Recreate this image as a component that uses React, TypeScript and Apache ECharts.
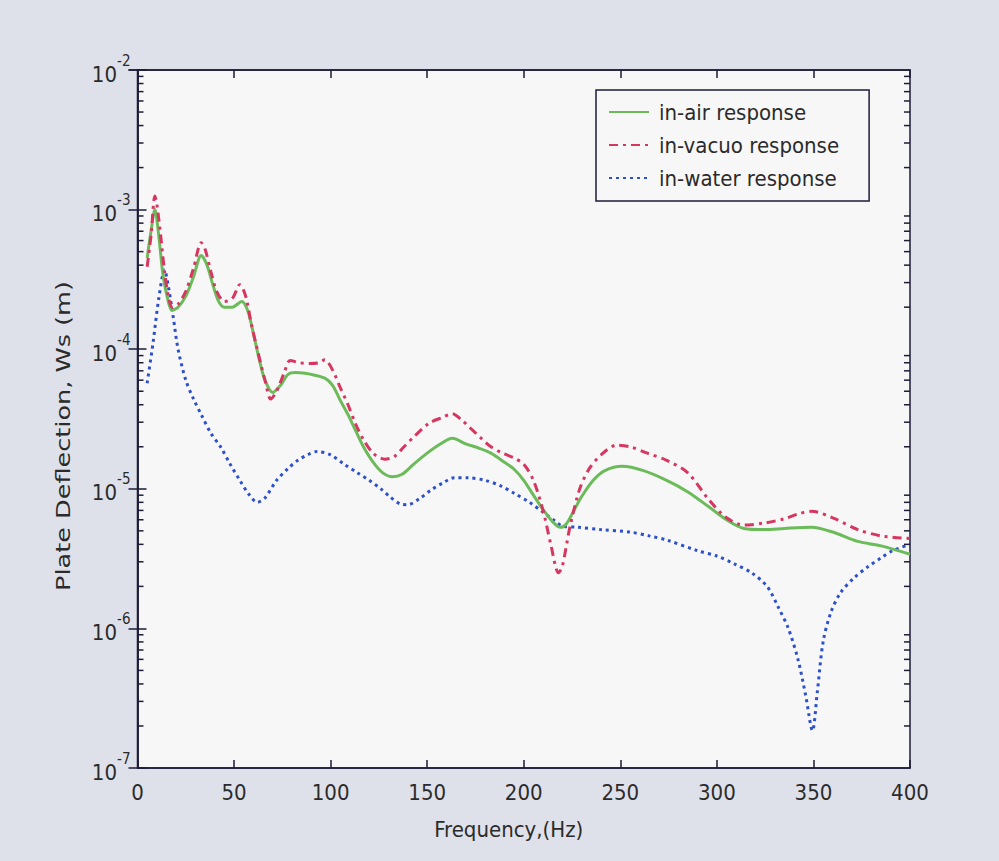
import React, { useEffect, useRef } from "react";
import * as echarts from "echarts";

// Frequency (Hz) / plate deflection Ws (m) pairs for each medium
const inAirResponse: [number, number][] = [
  [5, 4.5e-4], [7, 7.0e-4], [9, 1.0e-3], [11, 6.5e-4], [13, 3.6e-4], [15, 2.5e-4],
  [18, 1.9e-4], [21, 2.0e-4], [25, 2.4e-4], [29, 3.3e-4], [33, 4.7e-4], [36, 4.0e-4],
  [39, 2.9e-4], [42, 2.2e-4], [45, 2.0e-4], [49, 2.0e-4], [54, 2.2e-4], [57, 1.9e-4],
  [60, 1.3e-4], [63, 8.5e-5], [66, 6.0e-5], [70, 4.9e-5], [74, 5.5e-5], [78, 6.6e-5],
  [82, 6.8e-5], [90, 6.6e-5], [97, 6.2e-5], [101, 5.5e-5], [105, 4.3e-5], [109, 3.4e-5],
  [113, 2.6e-5], [117, 2.0e-5], [122, 1.55e-5], [127, 1.3e-5], [132, 1.22e-5], [137, 1.27e-5],
  [143, 1.5e-5], [150, 1.8e-5], [157, 2.1e-5], [163, 2.3e-5], [170, 2.1e-5], [177, 1.95e-5],
  [183, 1.8e-5], [190, 1.55e-5], [195, 1.38e-5], [200, 1.15e-5], [205, 9.0e-6], [210, 7.1e-6],
  [215, 5.8e-6], [219, 5.3e-6], [222, 5.6e-6], [226, 7.0e-6], [230, 8.8e-6], [236, 1.15e-5],
  [242, 1.35e-5], [251, 1.45e-5], [262, 1.35e-5], [274, 1.15e-5], [285, 9.5e-6], [296, 7.4e-6],
  [305, 6.0e-6], [314, 5.2e-6], [325, 5.1e-6], [335, 5.2e-6], [349, 5.3e-6], [360, 4.9e-6],
  [373, 4.2e-6], [385, 3.9e-6], [400, 3.4e-6],
];

const inVacuoResponse: [number, number][] = [
  [5, 3.9e-4], [7, 6.5e-4], [9, 1.25e-3], [10, 1.1e-3], [12, 6.5e-4], [14, 3.6e-4],
  [16, 2.4e-4], [18, 2.0e-4], [21, 2.1e-4], [25, 2.6e-4], [29, 3.8e-4], [33, 5.8e-4],
  [35, 5.2e-4], [38, 3.6e-4], [41, 2.6e-4], [45, 2.2e-4], [49, 2.3e-4], [53, 2.9e-4],
  [56, 2.4e-4], [59, 1.5e-4], [62, 1.0e-4], [66, 6.0e-5], [69, 4.4e-5], [72, 5.0e-5],
  [76, 6.8e-5], [79, 8.3e-5], [84, 8.0e-5], [89, 7.9e-5], [94, 8.0e-5], [97, 8.4e-5],
  [101, 7.1e-5], [105, 5.3e-5], [109, 4.0e-5], [113, 2.9e-5], [117, 2.25e-5], [122, 1.8e-5],
  [128, 1.63e-5], [133, 1.7e-5], [138, 2.0e-5], [143, 2.35e-5], [151, 2.95e-5], [158, 3.25e-5],
  [163, 3.45e-5], [168, 3.1e-5], [172, 2.75e-5], [178, 2.3e-5], [183, 2.0e-5], [189, 1.8e-5],
  [195, 1.66e-5], [200, 1.5e-5], [205, 1.15e-5], [210, 7.0e-6], [214, 4.0e-6], [218, 2.5e-6],
  [220, 2.8e-6], [224, 5.4e-6], [229, 1.0e-5], [234, 1.4e-5], [240, 1.75e-5], [248, 2.05e-5],
  [255, 2.0e-5], [264, 1.8e-5], [274, 1.6e-5], [285, 1.3e-5], [296, 8.3e-6], [305, 6.2e-6],
  [314, 5.5e-6], [325, 5.7e-6], [335, 6.1e-6], [342, 6.6e-6], [349, 6.9e-6], [360, 6.2e-6],
  [373, 5.1e-6], [385, 4.6e-6], [400, 4.4e-6],
];

const inWaterResponse: [number, number][] = [
  [5, 5.7e-5], [8, 1.1e-4], [11, 2.3e-4], [14, 3.7e-4], [16, 2.8e-4], [18.5, 1.7e-4],
  [21, 1.0e-4], [25, 6.0e-5], [29, 4.4e-5], [33, 3.4e-5], [38, 2.5e-5], [43, 2.0e-5],
  [48, 1.5e-5], [53, 1.15e-5], [58, 9.0e-6], [62, 8.0e-6], [66, 8.6e-6], [72, 1.15e-5],
  [78, 1.4e-5], [83, 1.6e-5], [88, 1.75e-5], [93, 1.85e-5], [100, 1.75e-5], [107, 1.5e-5],
  [114, 1.3e-5], [120, 1.15e-5], [126, 1.0e-5], [131, 8.7e-6], [136, 7.8e-6], [140, 7.7e-6],
  [146, 8.5e-6], [152, 9.8e-6], [158, 1.1e-5], [164, 1.2e-5], [171, 1.2e-5], [180, 1.15e-5],
  [188, 1.05e-5], [195, 9.3e-6], [203, 8.0e-6], [210, 6.8e-6], [216, 5.9e-6], [220, 5.4e-6],
  [228, 5.3e-6], [240, 5.1e-6], [255, 4.9e-6], [265, 4.6e-6], [274, 4.3e-6], [290, 3.6e-6],
  [300, 3.3e-6], [309, 2.9e-6], [318, 2.5e-6], [326, 2.0e-6], [332, 1.4e-6], [337, 1.0e-6],
  [342, 6.0e-7], [346, 3.3e-7], [349.5, 1.85e-7], [352, 3.5e-7], [355, 8.0e-7], [359, 1.3e-6],
  [364, 1.8e-6], [371, 2.3e-6], [378, 2.75e-6], [385, 3.2e-6], [391, 3.6e-6], [400, 4.0e-6],
];

const seriesNames = ["in-air response", "in-vacuo response", "in-water response"];
const xAxisTitle = "Frequency,(Hz)";
const yAxisTitle = "Plate Deflection, Ws (m)";
const yMin = 1e-7;
const yMax = 1e-2;
const xMin = 0;
const xMax = 400;
const xStep = 50;
const minorMultipliers = [2, 3, 4, 5, 6, 7, 8, 9];

const INK = "#1d1d38";
const TEXT = "#2b2b2b";
const FONT = "'DejaVu Sans Condensed', 'Liberation Sans', sans-serif";
const FS = 22;

export default function App() {
  const ref = useRef<HTMLDivElement>(null);

  useEffect(() => {
    if (!ref.current) return;
    const chart = echarts.init(ref.current, null, { renderer: "svg" });

    const expLabel = (v: number) => `{b|10}{s|${Math.round(Math.log10(v))}}`;

    const option: any = {
      animation: false,
      backgroundColor: "#dfe1ea",
      textStyle: { fontFamily: FONT },
      grid: {
        left: 137.5,
        right: 89,
        top: 70,
        bottom: 93,
        show: true,
        backgroundColor: "#f7f7f7",
        borderColor: INK,
        borderWidth: 1.5,
      },
      legend: {
        orient: "vertical",
        left: 596,
        top: 90,
        padding: [11, 30, 12, 12],
        itemGap: 11,
        itemWidth: 40,
        itemHeight: 14,
        backgroundColor: "#f7f7f7",
        borderColor: INK,
        borderWidth: 1.5,
        itemStyle: { opacity: 0 },
        textStyle: { fontFamily: FONT, fontSize: FS, color: TEXT, padding: [0, 0, 0, 5] },
        data: seriesNames,
      },
      xAxis: [
        {
          type: "value",
          min: xMin,
          max: xMax,
          interval: xStep,
          name: xAxisTitle,
          nameLocation: "middle",
          nameGap: 50,
          nameTextStyle: { fontFamily: FONT, fontSize: FS, color: TEXT, padding: [0, 30, 0, 0] },
          axisLine: { show: true, lineStyle: { color: INK, width: 1.5 } },
          axisTick: { show: true, inside: true, length: 8, lineStyle: { color: INK, width: 1.5 } },
          axisLabel: { fontFamily: FONT, fontSize: FS, color: TEXT, margin: 13 },
          splitLine: { show: false },
        },
        {
          type: "value",
          position: "top",
          min: xMin,
          max: xMax,
          interval: xStep,
          axisLine: { show: true, lineStyle: { color: INK, width: 1.5 } },
          axisTick: { show: true, inside: true, length: 8, lineStyle: { color: INK, width: 1.5 } },
          axisLabel: { show: false },
          splitLine: { show: false },
        },
      ],
      yAxis: [
        {
          type: "log",
          logBase: 10,
          min: yMin,
          max: yMax,
          axisLine: { show: true, lineStyle: { color: INK, width: 1.5 } },
          axisTick: { show: true, inside: true, length: 9, lineStyle: { color: INK, width: 1.5 } },
          axisLabel: {
            margin: 7,
            padding: [4, 0, 0, 0],
            formatter: expLabel,
            rich: {
              b: { fontFamily: FONT, fontSize: FS, lineHeight: 26, color: TEXT, verticalAlign: "bottom" },
              s: {
                fontFamily: FONT,
                fontSize: 15,
                lineHeight: 18,
                color: TEXT,
                verticalAlign: "bottom",
                padding: [0, 0, 17, 0],
              },
            },
          },
          splitLine: { show: false },
        },
        {
          type: "log",
          logBase: 10,
          position: "right",
          min: yMin,
          max: yMax,
          axisLine: { show: true, lineStyle: { color: INK, width: 1.5 } },
          axisTick: { show: true, inside: true, length: 9, lineStyle: { color: INK, width: 1.5 } },
          axisLabel: { show: false },
          splitLine: { show: false },
        },
      ],
      series: [
        {
          name: seriesNames[0],
          type: "line",
          data: inAirResponse,
          showSymbol: false,
          symbol: "none",
          smooth: 0.3,
          color: "#6cbb5a",
          lineStyle: { color: "#6cbb5a", width: 3, type: "solid" },
          z: 3,
        },
        {
          name: seriesNames[1],
          type: "line",
          data: inVacuoResponse,
          showSymbol: false,
          symbol: "none",
          smooth: 0.3,
          color: "#d6365f",
          lineStyle: { color: "#d6365f", width: 3, type: [9, 5, 3, 5] },
          z: 4,
        },
        {
          name: seriesNames[2],
          type: "line",
          data: inWaterResponse,
          showSymbol: false,
          symbol: "none",
          smooth: 0.3,
          color: "#2c4fcc",
          lineStyle: { color: "#2c4fcc", width: 3, type: [3, 4] },
          z: 2,
        },
      ],
    };

    chart.setOption(option);

    // Frame geometry from the axes, used for minor log ticks and the y-axis title
    const xl = chart.convertToPixel({ xAxisIndex: 0 }, xMin) as number;
    const xr = chart.convertToPixel({ xAxisIndex: 0 }, xMax) as number;
    const yTop = chart.convertToPixel({ yAxisIndex: 0 }, yMax) as number;
    const yBottom = chart.convertToPixel({ yAxisIndex: 0 }, yMin) as number;

    const extras: any[] = [];
    for (let e = Math.round(Math.log10(yMin)); e < Math.round(Math.log10(yMax)); e++) {
      for (const m of minorMultipliers) {
        const y = chart.convertToPixel({ yAxisIndex: 0 }, m * Math.pow(10, e)) as number;
        extras.push({
          type: "line",
          shape: { x1: xl, y1: y, x2: xl + 6, y2: y },
          style: { stroke: INK, lineWidth: 1.5 },
          silent: true,
          z: 10,
        });
        extras.push({
          type: "line",
          shape: { x1: xr - 6, y1: y, x2: xr, y2: y },
          style: { stroke: INK, lineWidth: 1.5 },
          silent: true,
          z: 10,
        });
      }
    }

    // Vertical y-axis title, drawn a little stretched along its length
    extras.push({
      type: "text",
      x: xl - 74,
      y: (yTop + yBottom) / 2 + 17,
      rotation: Math.PI / 2,
      scaleX: 1.42,
      style: {
        text: yAxisTitle,
        font: `20px ${FONT}`,
        fill: TEXT,
        align: "center",
        verticalAlign: "middle",
      },
      silent: true,
    });

    chart.setOption({ graphic: extras });

    return () => chart.dispose();
  }, []);

  return (
    <div
      ref={ref}
      style={{ position: "fixed", left: 0, top: 0, width: 999, height: 861 }}
    />
  );
}
